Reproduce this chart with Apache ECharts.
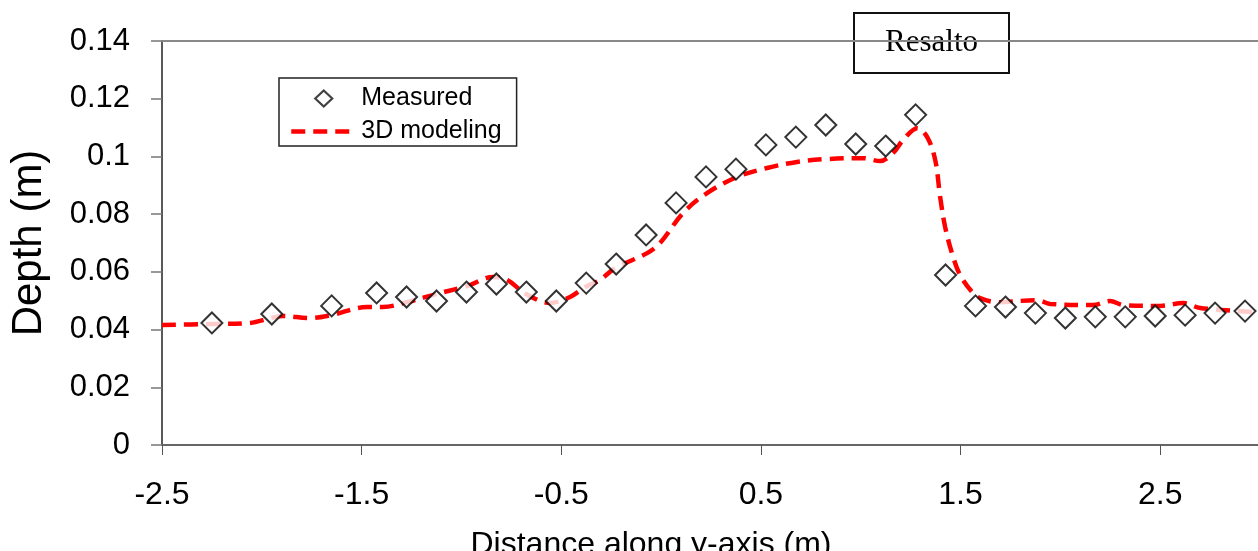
<!DOCTYPE html>
<html>
<head>
<meta charset="utf-8">
<script src="https://cdn.jsdelivr.net/npm/echarts@6/dist/echarts.min.js"></script>
<style>
html,body{margin:0;padding:0;background:#fff;}
#c{width:1258px;height:551px;}
</style>
</head>
<body>
<div id="c"></div>
<script>
// Measured points
const measuredX = [-2.25, -1.95, -1.65, -1.425, -1.275, -1.125, -0.975, -0.825, -0.675, -0.525,
  -0.375, -0.225, -0.075, 0.075, 0.225, 0.375, 0.525, 0.675, 0.825, 0.975,
  1.125, 1.275, 1.425, 1.575, 1.725, 1.875, 2.025, 2.175, 2.325, 2.475,
  2.625, 2.775, 2.925];
const measuredY = [0.0423, 0.0454, 0.0482, 0.0527, 0.0513, 0.0499, 0.0530, 0.0558, 0.0530, 0.0499,
  0.0561, 0.0627, 0.0728, 0.0839, 0.0929, 0.0956, 0.1040, 0.1067, 0.1109, 0.1043,
  0.1036, 0.1144, 0.0589, 0.0482, 0.0478, 0.0457, 0.0440, 0.0444, 0.0444, 0.0447,
  0.0450, 0.0457, 0.0464];

// 3D modeling curve
const modelX = [-2.5, -2.255, -2.059, -1.954, -1.894, -1.759, -1.653, -1.473, -1.393, -1.273,
  -1.127, -0.972, -0.842, -0.771, -0.676, -0.556, -0.456, -0.381, -0.306, -0.230,
  -0.070, -0.005, 0.110, 0.230, 0.381, 0.531, 0.681, 0.832, 1.012, 1.097,
  1.162, 1.212, 1.283, 1.333, 1.373, 1.398, 1.423, 1.463, 1.498, 1.558,
  1.598, 1.683, 1.884, 1.949, 2.164, 2.249, 2.315, 2.500, 2.615, 2.700, 2.966];
const modelY = [0.0416, 0.0419, 0.0423, 0.0440, 0.0447, 0.0440, 0.0450, 0.0478, 0.0478, 0.0495,
  0.0523, 0.0551, 0.0582, 0.0572, 0.0523, 0.0492, 0.0513, 0.0547, 0.0572, 0.0613,
  0.0665, 0.0700, 0.0804, 0.0873, 0.0929, 0.0960, 0.0981, 0.0991, 0.0994, 0.0984,
  0.1012, 0.1057, 0.1098, 0.1067, 0.0988, 0.0859, 0.0755, 0.0651, 0.0589, 0.0530,
  0.0509, 0.0495, 0.0502, 0.0489, 0.0485, 0.0499, 0.0485, 0.0482, 0.0492, 0.0475, 0.0461];

const seriesNames = ['Measured', '3D modeling'];
const xTitle = 'Distance along y-axis (m)';
const yTitle = 'Depth (m)';
const annotation = 'Resalto';

const measuredData = measuredX.map((x, i) => [x, measuredY[i]]);
const modelData = modelX.map((x, i) => [x, modelY[i]]);

const FONT = '"Liberation Sans", Arial, sans-serif';
// legend icon: a diamond centred in a 65x16 box (move-to corners fix the box)
const diamondIcon = 'path://M0,0M65,16M32.5,0L41,8L32.5,16L24,8Z';

const chart = echarts.init(document.getElementById('c'), null, {renderer: 'canvas'});
chart.setOption({
  animation: false,
  backgroundColor: '#ffffff',
  grid: {left: 162, top: 41, width: 1098, height: 404, containLabel: false, outerBoundsMode: 'none'},
  legend: {
    orient: 'vertical',
    left: 279, top: 78,
    padding: [8, 15, 2, 10],
    itemGap: 8,
    itemWidth: 65,
    itemHeight: 16,
    borderColor: '#222',
    borderWidth: 1.5,
    backgroundColor: '#fff',
    textStyle: {fontFamily: FONT, fontSize: 25, color: '#000', lineHeight: 25},
    data: [
      {name: seriesNames[0], icon: diamondIcon,
        itemStyle: {color: '#fff', borderColor: '#111', borderWidth: 2.2}},
      {name: seriesNames[1], itemStyle: {opacity: 0},
        lineStyle: {width: 4.5, type: [14, 8], color: '#ff0000'}}
    ]
  },
  xAxis: [{
    type: 'value', min: -2.5, max: 3, interval: 1,
    name: xTitle, nameLocation: 'middle', nameGap: 84,
    nameTextStyle: {fontFamily: FONT, fontSize: 32, color: '#000', padding: [0, 120, 0, 0]},
    axisLine: {show: true, onZero: false, lineStyle: {color: '#666', width: 2}},
    axisTick: {show: true, length: 10, lineStyle: {color: '#555', width: 1}},
    axisLabel: {fontFamily: FONT, fontSize: 32, color: '#000', margin: 34, showMaxLabel: false},
    splitLine: {show: false}
  }, {
    type: 'value', position: 'top', min: -2.5, max: 3, interval: 1,
    axisLine: {show: true, onZero: false, lineStyle: {color: '#888', width: 2}},
    axisTick: {show: false}, axisLabel: {show: false}, splitLine: {show: false}
  }],
  yAxis: {
    type: 'value', min: 0, max: 0.14, interval: 0.02,
    name: yTitle, nameLocation: 'middle', nameGap: 112, nameRotate: 90,
    nameTextStyle: {fontFamily: FONT, fontSize: 42, color: '#000'},
    axisLine: {show: true, onZero: false, lineStyle: {color: '#222', width: 1.5}},
    axisTick: {show: true, length: 11, lineStyle: {color: '#777', width: 1.5}},
    axisLabel: {fontFamily: FONT, fontSize: 31, color: '#000', margin: 32},
    splitLine: {show: false}
  },
  series: [{
    name: seriesNames[0],
    type: 'scatter',
    symbol: 'emptyDiamond',
    symbolSize: 21,
    itemStyle: {color: '#000', borderColor: '#111', borderWidth: 2},
    data: measuredData,
    z: 3
  }, {
    name: seriesNames[1],
    type: 'line',
    smooth: 0.35,
    symbol: 'none',
    lineStyle: {color: '#ff0000', width: 4.5, type: [14, 8]},
    itemStyle: {color: '#ff0000'},
    data: modelData,
    z: 2
  }],
  graphic: [{
    type: 'group',
    left: 853, top: 12,
    children: [{
      type: 'rect',
      shape: {x: 0, y: 0, width: 155, height: 60},
      style: {fill: '#fff', stroke: '#111', lineWidth: 2}
    }, {
      type: 'text',
      x: 77.5, y: 30,
      style: {text: annotation, font: '31px "Liberation Serif", "Times New Roman", serif', fill: '#000', align: 'center', verticalAlign: 'middle'}
    }]
  }]
});
</script>
</body>
</html>
